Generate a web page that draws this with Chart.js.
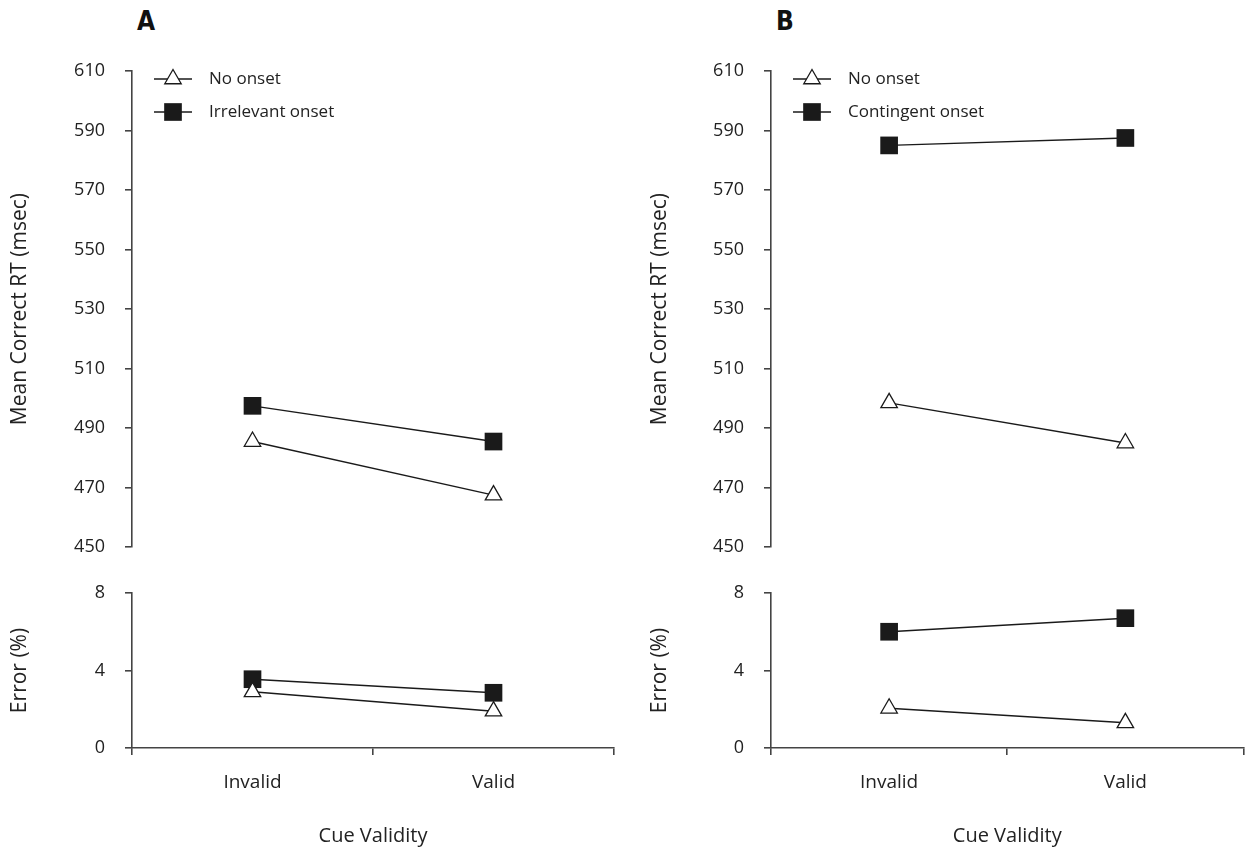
<!DOCTYPE html>
<html>
<head>
<meta charset="utf-8">
<script src="https://cdn.jsdelivr.net/npm/chart.js@4.4.0/dist/chart.umd.min.js"></script>
<style>
  html, body { margin: 0; padding: 0; background: #fff; }
  #page { position: relative; width: 1256px; height: 852px; overflow: hidden; }
  .box { position: absolute; }
  .panel-label {
    position: absolute;
    top: 6px;
    line-height: 28px;
    font: bold 26px "Liberation Sans Narrow", "DejaVu Sans Condensed", sans-serif;
    color: #111;
  }
</style>
</head>
<body>
<div id="page">
  <div class="panel-label" style="left:137px">A</div>
  <div class="panel-label" style="left:776px">B</div>
  <!-- top canvases run a bit past 560 because the y ticks ask for label padding below the axis -->
  <div class="box" style="left:0;top:0;width:640px;height:578px"><canvas id="rtA"></canvas></div>
  <div class="box" style="left:0;top:560px;width:640px;height:292px"><canvas id="errA"></canvas></div>
  <div class="box" style="left:640px;top:0;width:616px;height:578px"><canvas id="rtB"></canvas></div>
  <div class="box" style="left:640px;top:560px;width:616px;height:292px"><canvas id="errB"></canvas></div>
</div>
<script>
const cues = ["Invalid", "Valid"];

// panel A
const rtNoOnsetA = [485.5, 467.5];
const rtIrrelevantA = [497.5, 485.5];
const errNoOnsetA = [2.9, 1.9];
const errIrrelevantA = [3.55, 2.85];

// panel B
const rtNoOnsetB = [498.5, 485];
const rtContingentB = [585, 587.5];
const errNoOnsetB = [2.05, 1.3];
const errContingentB = [6.0, 6.7];

const rtTicks = { min: 450, max: 610, step: 20 };
const errTicks = { min: 0, max: 8, step: 4 };

const FONT = "'Open Sans', 'Noto Sans', sans-serif";
const INK = "#1a1a1a";
const AXIS = "#444";

const makeSet = (label, data, square) => ({
  label: label,
  data: data,
  borderColor: INK,
  borderWidth: 1.4,
  tension: 0,
  clip: false,
  pointStyle: square ? "rect" : "triangle",
  pointRadius: square ? 12.5 : 9.5,
  pointHoverRadius: square ? 12.5 : 9.5,
  pointBackgroundColor: square ? INK : "#fff",
  pointBorderColor: INK,
  pointBorderWidth: square ? 0 : 1.3,
});

// legend drawn as line-through-marker, like the original figure
const lineLegend = {
  id: "lineLegend",
  afterDraw(chart, args, opts) {
    if (!opts.show) return;
    const { ctx, chartArea } = chart;
    chart.data.datasets.forEach((ds, i) => {
      const y = chartArea.top + 8 + i * 33;
      const x0 = chartArea.left + 22;
      ctx.save();
      ctx.strokeStyle = ds.borderColor;
      ctx.lineWidth = ds.borderWidth;
      ctx.beginPath();
      ctx.moveTo(x0, y);
      ctx.lineTo(x0 + 38, y);
      ctx.stroke();
      ctx.fillStyle = ds.pointBackgroundColor;
      ctx.strokeStyle = ds.pointBorderColor;
      ctx.lineWidth = ds.pointBorderWidth;
      Chart.helpers.drawPoint(ctx, { pointStyle: ds.pointStyle, radius: ds.pointRadius, borderWidth: ds.pointBorderWidth, rotation: 0 }, x0 + 19, y);
      ctx.fillStyle = "#222";
      ctx.font = "17px " + FONT;
      ctx.textBaseline = "middle";
      ctx.textAlign = "left";
      ctx.fillText(ds.label, x0 + 55, y);
      ctx.restore();
    });
  },
};

const yScale = (range, title, width) => ({
  min: range.min,
  max: range.max,
  border: { display: true, color: AXIS, width: 1.6 },
  grid: { display: true, drawOnChartArea: false, drawTicks: true, tickLength: 7, color: AXIS, lineWidth: 1.6 },
  ticks: { stepSize: range.step, padding: 20, color: "#222", font: { family: FONT, size: 18 } },
  title: { display: true, text: title, color: "#222", font: { family: FONT, size: 21 }, padding: { top: 7, bottom: 0 } },
  afterFit: (scale) => {
    scale.width = width;
  },
});

const xScale = (show) =>
  show
    ? {
        type: "category",
        offset: true,
        border: { display: true, color: AXIS, width: 1.6 },
        grid: { display: true, offset: true, drawOnChartArea: false, drawTicks: true, tickLength: 7, color: AXIS, lineWidth: 1.6 },
        ticks: { padding: 16, color: "#222", font: { family: FONT, size: 19 } },
        title: { display: true, text: "Cue Validity", color: "#222", font: { family: FONT, size: 20 }, padding: { top: 0, bottom: 4 } },
        afterFit: (scale) => {
          scale.height = 104;
        },
      }
    : { type: "category", offset: true, display: false };

const drawPanel = (id, sets, range, title, axisLeft, padRight, pad, isError, showLegend) => {
  return new Chart(document.getElementById(id), {
    type: "line",
    data: { labels: cues, datasets: sets },
    options: {
      responsive: true,
      maintainAspectRatio: false,
      devicePixelRatio: 1,
      animation: false,
      events: [],
      layout: { padding: { top: pad.top, bottom: pad.bottom, left: 0, right: padRight } },
      scales: {
        x: xScale(isError),
        y: yScale(range, title, axisLeft),
      },
      plugins: {
        legend: { display: false },
        tooltip: { enabled: false },
        lineLegend: { show: showLegend },
      },
    },
    plugins: [lineLegend],
  });
};

drawPanel("rtA", [makeSet("No onset", rtNoOnsetA, false), makeSet("Irrelevant onset", rtIrrelevantA, true)],
  rtTicks, "Mean Correct RT (msec)", 132, 26, { top: 71, bottom: 0 }, false, true);
drawPanel("errA", [makeSet("No onset", errNoOnsetA, false), makeSet("Irrelevant onset", errIrrelevantA, true)],
  errTicks, "Error (%)", 132, 26, { top: 33, bottom: 0 }, true, false);
drawPanel("rtB", [makeSet("No onset", rtNoOnsetB, false), makeSet("Contingent onset", rtContingentB, true)],
  rtTicks, "Mean Correct RT (msec)", 131, 4, { top: 71, bottom: 0 }, false, true);
drawPanel("errB", [makeSet("No onset", errNoOnsetB, false), makeSet("Contingent onset", errContingentB, true)],
  errTicks, "Error (%)", 131, 4, { top: 33, bottom: 0 }, true, false);
</script>
</body>
</html>
